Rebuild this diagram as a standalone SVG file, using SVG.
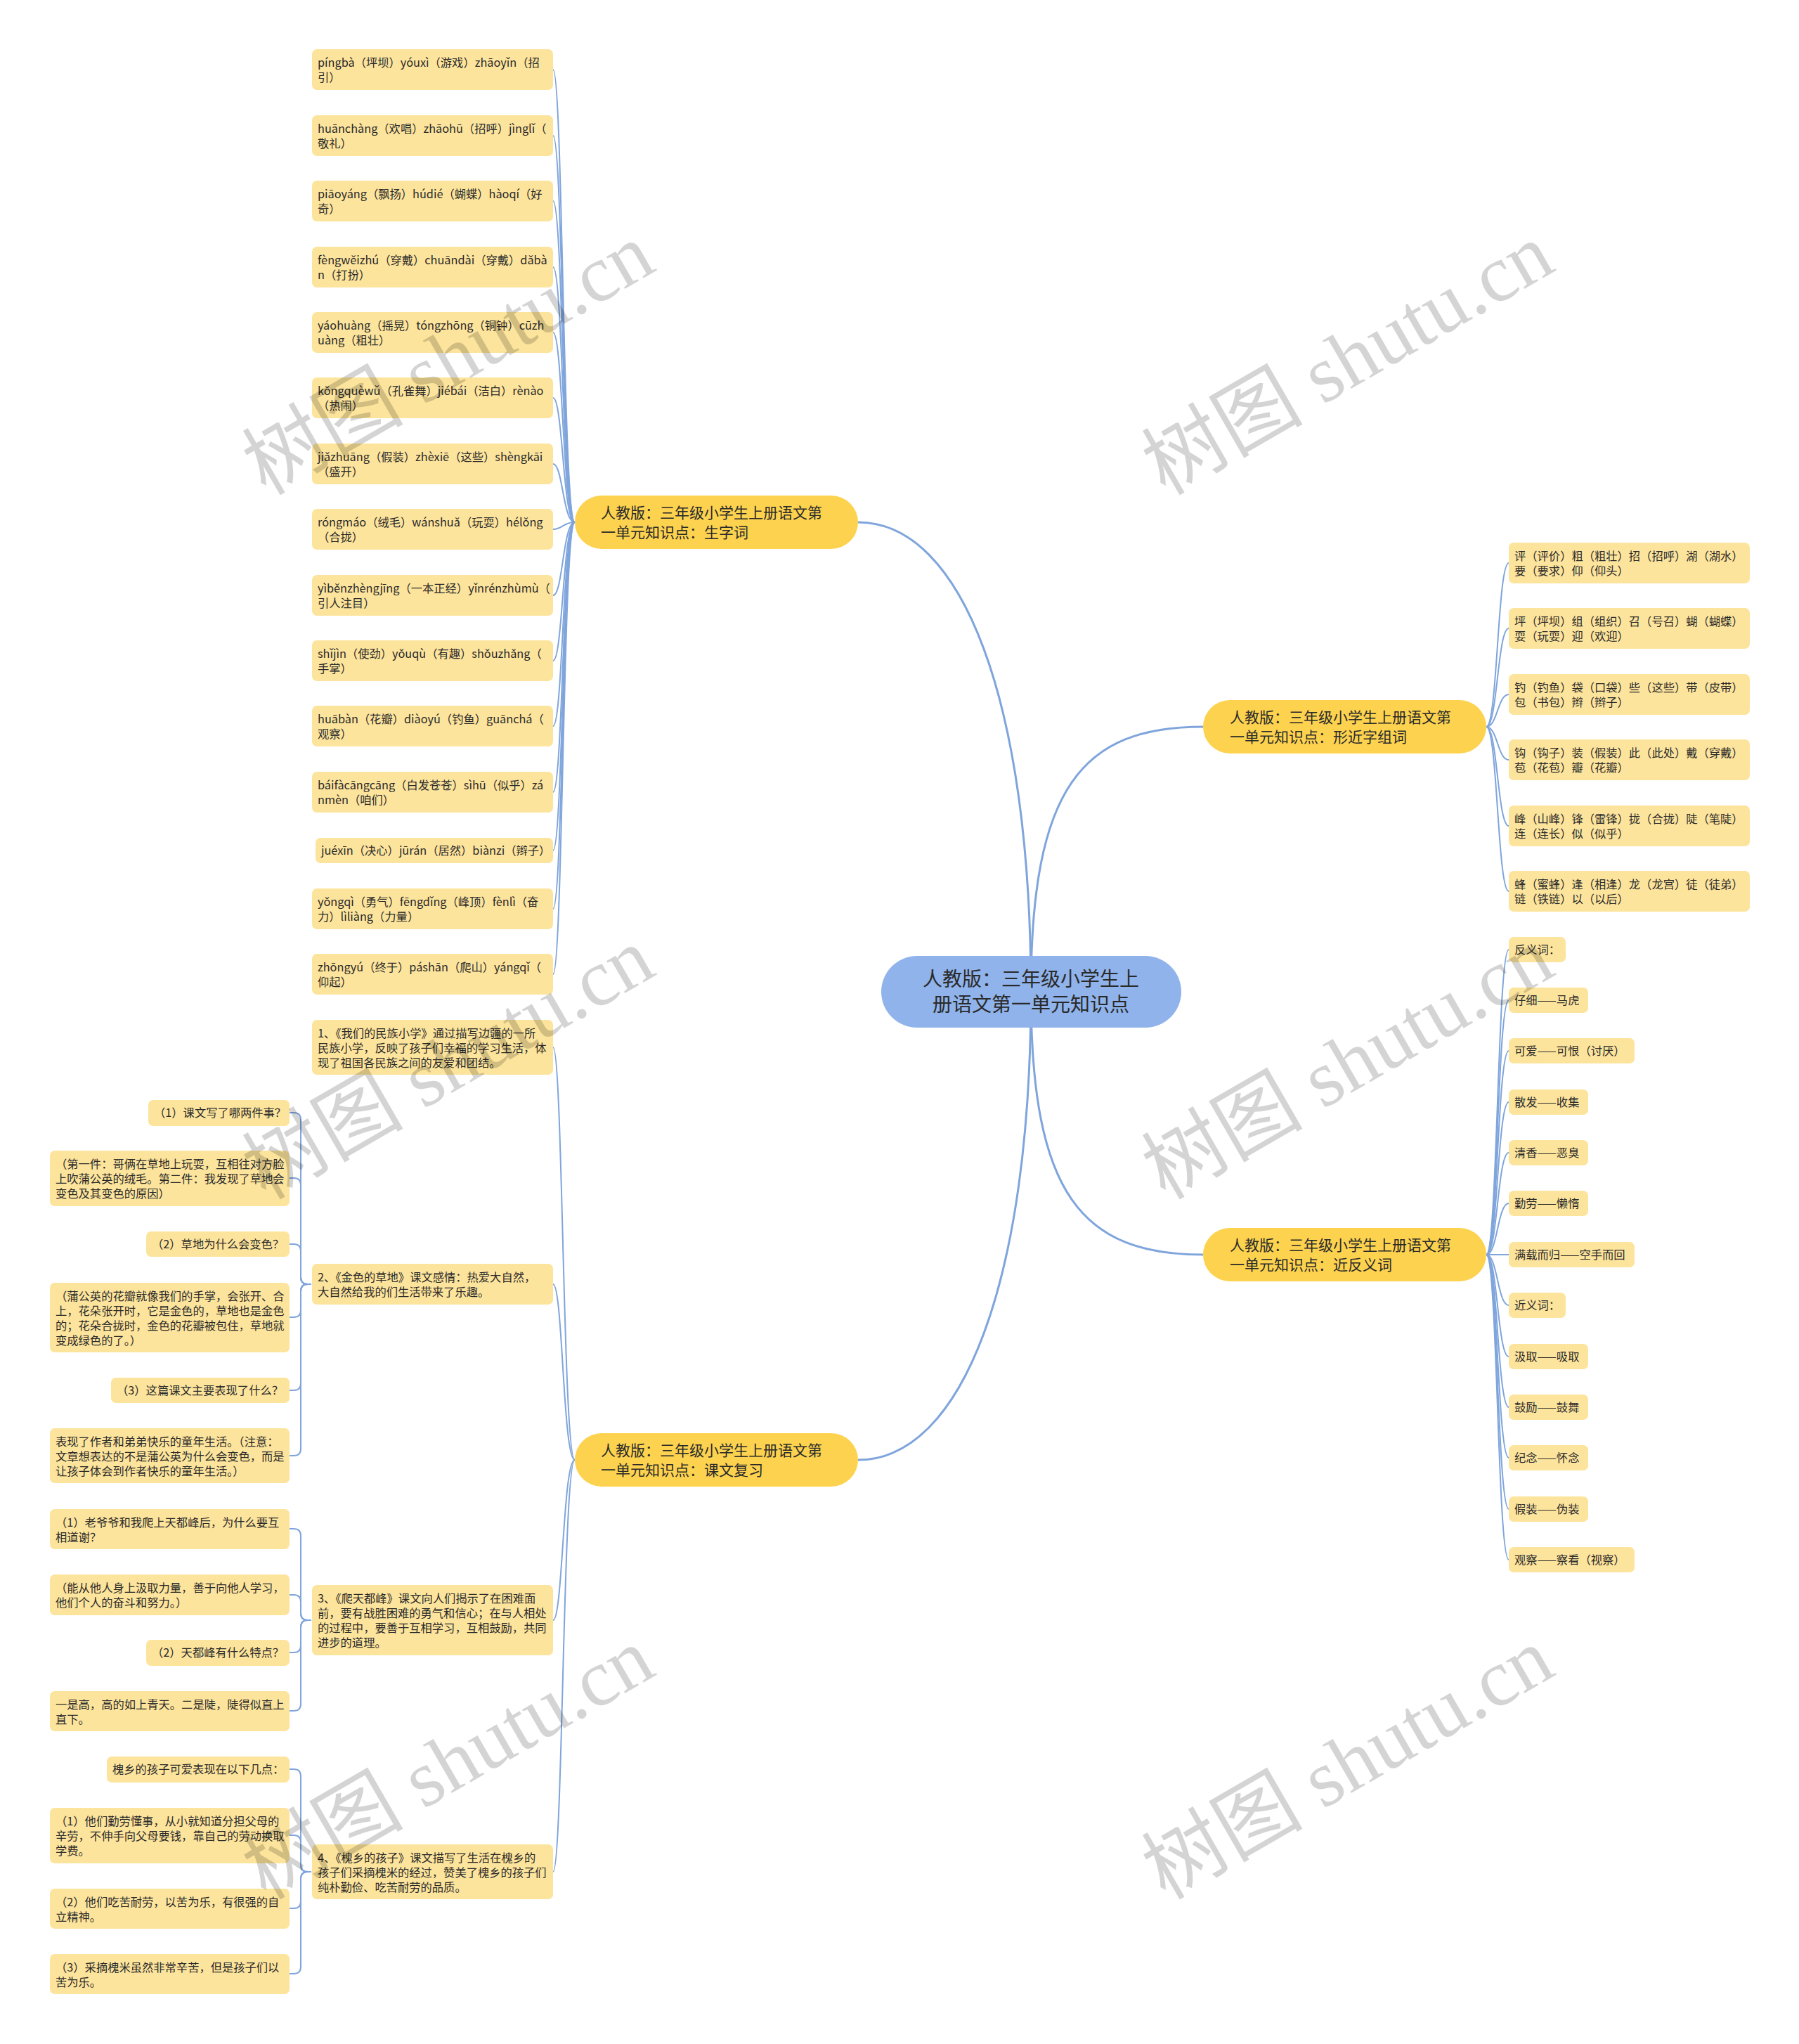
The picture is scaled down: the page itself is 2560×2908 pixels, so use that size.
<svg xmlns="http://www.w3.org/2000/svg" width="2560" height="2908" viewBox="0 0 2560 2908">
<style>
.c{fill:none;stroke:#7fa5dc;stroke-width:2}
.cm{fill:none;stroke:#7fa5dc;stroke-width:3}
.leaf{fill:#fde49c}
.br{fill:#fdd24f}
.root{fill:#8fb3ea}
text{font-family:"Noto Sans CJK SC","Noto Sans",sans-serif;fill:#2a2a2a}
.t{font-size:16.3px}
.tb{font-size:21px}
.tr{font-size:28px;text-anchor:middle}
.wm{font-family:"Liberation Serif","Noto Sans CJK SC",serif;font-size:115px;fill:#000;fill-opacity:0.17}
</style>
<rect width="2560" height="2908" fill="#ffffff"/>
<g id="connectors">
<path class="cm" d="M1467 1411 C1467 1000 1370 743 1221 743"/>
<path class="cm" d="M1467 1411 C1467 1120 1540 1034 1712 1034"/>
<path class="cm" d="M1467 1411 C1467 1700 1540 1785 1712 1785"/>
<path class="cm" d="M1467 1411 C1467 1820 1370 2077 1221 2077"/>
<path class="c" d="M818 743 C801 743 801 99 787 99"/>
<path class="c" d="M818 743 C801 743 801 193 787 193"/>
<path class="c" d="M818 743 C801 743 801 286 787 286"/>
<path class="c" d="M818 743 C801 743 801 380 787 380"/>
<path class="c" d="M818 743 C801 743 801 473 787 473"/>
<path class="c" d="M818 743 C801 743 801 566 787 566"/>
<path class="c" d="M818 743 C801 743 801 660 787 660"/>
<path class="c" d="M818 743 C801 743 801 753 787 753"/>
<path class="c" d="M818 743 C801 743 801 847 787 847"/>
<path class="c" d="M818 743 C801 743 801 940 787 940"/>
<path class="c" d="M818 743 C801 743 801 1033 787 1033"/>
<path class="c" d="M818 743 C801 743 801 1127 787 1127"/>
<path class="c" d="M818 743 C801 743 801 1210 787 1210"/>
<path class="c" d="M818 743 C801 743 801 1293 787 1293"/>
<path class="c" d="M818 743 C801 743 801 1386 787 1386"/>
<path class="c" d="M818 2077 C801 2077 801 1490 787 1490"/>
<path class="c" d="M818 2077 C801 2077 801 1827 787 1827"/>
<path class="c" d="M818 2077 C801 2077 801 2305 787 2305"/>
<path class="c" d="M818 2077 C801 2077 801 2663 787 2663"/>
<path class="c" d="M2115 1034 C2131 1034 2131 801 2147 801"/>
<path class="c" d="M2115 1034 C2131 1034 2131 894 2147 894"/>
<path class="c" d="M2115 1034 C2131 1034 2131 988 2147 988"/>
<path class="c" d="M2115 1034 C2131 1034 2131 1081 2147 1081"/>
<path class="c" d="M2115 1034 C2131 1034 2131 1175 2147 1175"/>
<path class="c" d="M2115 1034 C2131 1034 2131 1268 2147 1268"/>
<path class="c" d="M2115 1785 C2131 1785 2131 1351 2147 1351"/>
<path class="c" d="M2115 1785 C2131 1785 2131 1423 2147 1423"/>
<path class="c" d="M2115 1785 C2131 1785 2131 1495 2147 1495"/>
<path class="c" d="M2115 1785 C2131 1785 2131 1568 2147 1568"/>
<path class="c" d="M2115 1785 C2131 1785 2131 1640 2147 1640"/>
<path class="c" d="M2115 1785 C2131 1785 2131 1712 2147 1712"/>
<path class="c" d="M2115 1785 L2147 1785"/>
<path class="c" d="M2115 1785 C2131 1785 2131 1857 2147 1857"/>
<path class="c" d="M2115 1785 C2131 1785 2131 1930 2147 1930"/>
<path class="c" d="M2115 1785 C2131 1785 2131 2002 2147 2002"/>
<path class="c" d="M2115 1785 C2131 1785 2131 2074 2147 2074"/>
<path class="c" d="M2115 1785 C2131 1785 2131 2147 2147 2147"/>
<path class="c" d="M2115 1785 C2131 1785 2131 2219 2147 2219"/>
<path class="c" d="M443 1827 H438 Q428 1827 428 1817 V1593 Q428 1583 418 1583 H412"/>
<path class="c" d="M443 1827 H438 Q428 1827 428 1817 V1686 Q428 1676 418 1676 H412"/>
<path class="c" d="M443 1827 H438 Q428 1827 428 1817 V1780 Q428 1770 418 1770 H412"/>
<path class="c" d="M443 1827 H438 Q428 1827 428 1837 V1864 Q428 1874 418 1874 H412"/>
<path class="c" d="M443 1827 H438 Q428 1827 428 1837 V1968 Q428 1978 418 1978 H412"/>
<path class="c" d="M443 1827 H438 Q428 1827 428 1837 V2061 Q428 2071 418 2071 H412"/>
<path class="c" d="M443 2305 H438 Q428 2305 428 2295 V2185 Q428 2175 418 2175 H412"/>
<path class="c" d="M443 2305 H438 Q428 2305 428 2295 V2279 Q428 2269 418 2269 H412"/>
<path class="c" d="M443 2305 H438 Q428 2305 428 2315 V2341 Q428 2351 418 2351 H412"/>
<path class="c" d="M443 2305 H438 Q428 2305 428 2315 V2424 Q428 2434 418 2434 H412"/>
<path class="c" d="M443 2663 H438 Q428 2663 428 2653 V2527 Q428 2517 418 2517 H412"/>
<path class="c" d="M443 2663 H438 Q428 2663 428 2653 V2621 Q428 2611 418 2611 H412"/>
<path class="c" d="M443 2663 H438 Q428 2663 428 2673 V2705 Q428 2715 418 2715 H412"/>
<path class="c" d="M443 2663 H438 Q428 2663 428 2673 V2798 Q428 2808 418 2808 H412"/>
</g>
<g id="root"><rect class="root" x="1254" y="1360" width="427" height="102" rx="51"/><text class="tr" x="1467" y="1403">人教版：三年级小学生上</text><text class="tr" x="1467" y="1439">册语文第一单元知识点</text></g>
<g id="b1"><rect class="br" x="818" y="705" width="403" height="76" rx="38"/><text class="tb" x="855" y="737">人教版：三年级小学生上册语文第</text><text class="tb" x="855" y="765">一单元知识点：生字词</text></g>
<g id="b2"><rect class="br" x="1712" y="996" width="403" height="76" rx="38"/><text class="tb" x="1750" y="1028">人教版：三年级小学生上册语文第</text><text class="tb" x="1750" y="1056">一单元知识点：形近字组词</text></g>
<g id="b3"><rect class="br" x="1712" y="1747" width="403" height="76" rx="38"/><text class="tb" x="1750" y="1779">人教版：三年级小学生上册语文第</text><text class="tb" x="1750" y="1807">一单元知识点：近反义词</text></g>
<g id="b4"><rect class="br" x="818" y="2039" width="403" height="76" rx="38"/><text class="tb" x="855" y="2071">人教版：三年级小学生上册语文第</text><text class="tb" x="855" y="2099">一单元知识点：课文复习</text></g>
<g id="s1"><rect class="leaf" x="444" y="70" width="343" height="58" rx="7"/><text class="t" x="452" y="95">píngbà（坪坝）yóuxì（游戏）zhāoyǐn（招</text><text class="t" x="452" y="116">引）</text></g>
<g id="s2"><rect class="leaf" x="444" y="164" width="343" height="58" rx="7"/><text class="t" x="452" y="189">huānchàng（欢唱）zhāohū（招呼）jìnglǐ（</text><text class="t" x="452" y="210">敬礼）</text></g>
<g id="s3"><rect class="leaf" x="444" y="257" width="343" height="58" rx="7"/><text class="t" x="452" y="282">piāoyáng（飘扬）húdié（蝴蝶）hàoqí（好</text><text class="t" x="452" y="303">奇）</text></g>
<g id="s4"><rect class="leaf" x="444" y="351" width="343" height="58" rx="7"/><text class="t" x="452" y="376">fèngwěizhú（穿戴）chuāndài（穿戴）dǎbà</text><text class="t" x="452" y="397">n（打扮）</text></g>
<g id="s5"><rect class="leaf" x="444" y="444" width="343" height="58" rx="7"/><text class="t" x="452" y="469">yáohuàng（摇晃）tóngzhōng（铜钟）cūzh</text><text class="t" x="452" y="490">uàng（粗壮）</text></g>
<g id="s6"><rect class="leaf" x="444" y="537" width="343" height="58" rx="7"/><text class="t" x="452" y="562">kǒngquèwǔ（孔雀舞）jiébái（洁白）rènào</text><text class="t" x="452" y="583">（热闹）</text></g>
<g id="s7"><rect class="leaf" x="444" y="631" width="343" height="58" rx="7"/><text class="t" x="452" y="656">jiǎzhuāng（假装）zhèxiē（这些）shèngkāi</text><text class="t" x="452" y="677">（盛开）</text></g>
<g id="s8"><rect class="leaf" x="444" y="724" width="343" height="58" rx="7"/><text class="t" x="452" y="749">róngmáo（绒毛）wánshuǎ（玩耍）hélǒng</text><text class="t" x="452" y="770">（合拢）</text></g>
<g id="s9"><rect class="leaf" x="444" y="818" width="343" height="58" rx="7"/><text class="t" x="452" y="843">yìběnzhèngjīng（一本正经）yǐnrénzhùmù（</text><text class="t" x="452" y="864">引人注目）</text></g>
<g id="s10"><rect class="leaf" x="444" y="911" width="343" height="58" rx="7"/><text class="t" x="452" y="936">shǐjìn（使劲）yǒuqù（有趣）shǒuzhǎng（</text><text class="t" x="452" y="957">手掌）</text></g>
<g id="s11"><rect class="leaf" x="444" y="1004" width="343" height="58" rx="7"/><text class="t" x="452" y="1029">huābàn（花瓣）diàoyú（钓鱼）guānchá（</text><text class="t" x="452" y="1050">观察）</text></g>
<g id="s12"><rect class="leaf" x="444" y="1098" width="343" height="58" rx="7"/><text class="t" x="452" y="1123">báifàcāngcāng（白发苍苍）sìhū（似乎）zá</text><text class="t" x="452" y="1144">nmèn（咱们）</text></g>
<g id="s13"><rect class="leaf" x="449" y="1192" width="338" height="36" rx="7"/><text class="t" x="457" y="1216">juéxīn（决心）jūrán（居然）biànzi（辫子）</text></g>
<g id="s14"><rect class="leaf" x="444" y="1264" width="343" height="58" rx="7"/><text class="t" x="452" y="1289">yǒngqì（勇气）fēngdǐng（峰顶）fènlì（奋</text><text class="t" x="452" y="1310">力）lìliàng（力量）</text></g>
<g id="s15"><rect class="leaf" x="444" y="1357" width="343" height="58" rx="7"/><text class="t" x="452" y="1382">zhōngyú（终于）páshān（爬山）yángqǐ（</text><text class="t" x="452" y="1403">仰起）</text></g>
<g id="k1"><rect class="leaf" x="444" y="1451" width="343" height="78" rx="7"/><text class="t" x="452" y="1476">1、《我们的民族小学》通过描写边疆的一所</text><text class="t" x="452" y="1497">民族小学，反映了孩子们幸福的学习生活，体</text><text class="t" x="452" y="1518">现了祖国各民族之间的友爱和团结。</text></g>
<g id="k2"><rect class="leaf" x="444" y="1798" width="343" height="58" rx="7"/><text class="t" x="452" y="1823">2、《金色的草地》课文感情：热爱大自然，</text><text class="t" x="452" y="1844">大自然给我的们生活带来了乐趣。</text></g>
<g id="k3"><rect class="leaf" x="444" y="2255" width="343" height="100" rx="7"/><text class="t" x="452" y="2280">3、《爬天都峰》课文向人们揭示了在困难面</text><text class="t" x="452" y="2301">前，要有战胜困难的勇气和信心；在与人相处</text><text class="t" x="452" y="2322">的过程中，要善于互相学习，互相鼓励，共同</text><text class="t" x="452" y="2343">进步的道理。</text></g>
<g id="k4"><rect class="leaf" x="444" y="2624" width="343" height="78" rx="7"/><text class="t" x="452" y="2649">4、《槐乡的孩子》课文描写了生活在槐乡的</text><text class="t" x="452" y="2670">孩子们采摘槐米的经过，赞美了槐乡的孩子们</text><text class="t" x="452" y="2691">纯朴勤俭、吃苦耐劳的品质。</text></g>
<g id="g1"><rect class="leaf" x="211" y="1565" width="201" height="37" rx="7"/><text class="t" x="219" y="1589">（1）课文写了哪两件事？</text></g>
<g id="g2"><rect class="leaf" x="71" y="1637" width="341" height="79" rx="7"/><text class="t" x="79" y="1662">（第一件：哥俩在草地上玩耍，互相往对方脸</text><text class="t" x="79" y="1683">上吹蒲公英的绒毛。第二件：我发现了草地会</text><text class="t" x="79" y="1704">变色及其变色的原因）</text></g>
<g id="g3"><rect class="leaf" x="208" y="1752" width="204" height="36" rx="7"/><text class="t" x="216" y="1776">（2）草地为什么会变色？</text></g>
<g id="g4"><rect class="leaf" x="71" y="1825" width="341" height="99" rx="7"/><text class="t" x="79" y="1850">（蒲公英的花瓣就像我们的手掌，会张开、合</text><text class="t" x="79" y="1871">上，花朵张开时，它是金色的，草地也是金色</text><text class="t" x="79" y="1892">的；花朵合拢时，金色的花瓣被包住，草地就</text><text class="t" x="79" y="1913">变成绿色的了。）</text></g>
<g id="g5"><rect class="leaf" x="158" y="1960" width="254" height="36" rx="7"/><text class="t" x="166" y="1984">（3）这篇课文主要表现了什么？</text></g>
<g id="g6"><rect class="leaf" x="71" y="2032" width="341" height="78" rx="7"/><text class="t" x="79" y="2057">表现了作者和弟弟快乐的童年生活。（注意：</text><text class="t" x="79" y="2078">文章想表达的不是蒲公英为什么会变色，而是</text><text class="t" x="79" y="2099">让孩子体会到作者快乐的童年生活。）</text></g>
<g id="g7"><rect class="leaf" x="71" y="2147" width="341" height="57" rx="7"/><text class="t" x="79" y="2172">（1）老爷爷和我爬上天都峰后，为什么要互</text><text class="t" x="79" y="2193">相道谢？</text></g>
<g id="g8"><rect class="leaf" x="71" y="2240" width="341" height="58" rx="7"/><text class="t" x="79" y="2265">（能从他人身上汲取力量，善于向他人学习，</text><text class="t" x="79" y="2286">他们个人的奋斗和努力。）</text></g>
<g id="g9"><rect class="leaf" x="208" y="2333" width="204" height="37" rx="7"/><text class="t" x="216" y="2357">（2）天都峰有什么特点？</text></g>
<g id="g10"><rect class="leaf" x="71" y="2406" width="341" height="57" rx="7"/><text class="t" x="79" y="2431">一是高，高的如上青天。二是陡，陡得似直上</text><text class="t" x="79" y="2452">直下。</text></g>
<g id="g11"><rect class="leaf" x="152" y="2499" width="260" height="37" rx="7"/><text class="t" x="160" y="2523">槐乡的孩子可爱表现在以下几点：</text></g>
<g id="g12"><rect class="leaf" x="71" y="2572" width="341" height="79" rx="7"/><text class="t" x="79" y="2597">（1）他们勤劳懂事，从小就知道分担父母的</text><text class="t" x="79" y="2618">辛劳，不伸手向父母要钱，靠自己的劳动换取</text><text class="t" x="79" y="2639">学费。</text></g>
<g id="g13"><rect class="leaf" x="71" y="2687" width="341" height="57" rx="7"/><text class="t" x="79" y="2712">（2）他们吃苦耐劳，以苦为乐，有很强的自</text><text class="t" x="79" y="2733">立精神。</text></g>
<g id="g14"><rect class="leaf" x="71" y="2780" width="341" height="57" rx="7"/><text class="t" x="79" y="2805">（3）采摘槐米虽然非常辛苦，但是孩子们以</text><text class="t" x="79" y="2826">苦为乐。</text></g>
<g id="x1"><rect class="leaf" x="2147" y="772" width="343" height="58" rx="7"/><text class="t" x="2155" y="797">评（评价）粗（粗壮）招（招呼）湖（湖水）</text><text class="t" x="2155" y="818">要（要求）仰（仰头）</text></g>
<g id="x2"><rect class="leaf" x="2147" y="865" width="343" height="58" rx="7"/><text class="t" x="2155" y="890">坪（坪坝）组（组织）召（号召）蝴（蝴蝶）</text><text class="t" x="2155" y="911">耍（玩耍）迎（欢迎）</text></g>
<g id="x3"><rect class="leaf" x="2147" y="959" width="343" height="58" rx="7"/><text class="t" x="2155" y="984">钓（钓鱼）袋（口袋）些（这些）带（皮带）</text><text class="t" x="2155" y="1005">包（书包）辫（辫子）</text></g>
<g id="x4"><rect class="leaf" x="2147" y="1052" width="343" height="58" rx="7"/><text class="t" x="2155" y="1077">钩（钩子）装（假装）此（此处）戴（穿戴）</text><text class="t" x="2155" y="1098">苞（花苞）瓣（花瓣）</text></g>
<g id="x5"><rect class="leaf" x="2147" y="1146" width="343" height="58" rx="7"/><text class="t" x="2155" y="1171">峰（山峰）锋（雷锋）拢（合拢）陡（笔陡）</text><text class="t" x="2155" y="1192">连（连长）似（似乎）</text></g>
<g id="x6"><rect class="leaf" x="2147" y="1239" width="343" height="58" rx="7"/><text class="t" x="2155" y="1264">蜂（蜜蜂）逢（相逢）龙（龙宫）徒（徒弟）</text><text class="t" x="2155" y="1285">链（铁链）以（以后）</text></g>
<g id="y1"><rect class="leaf" x="2147" y="1333" width="81" height="36" rx="7"/><text class="t" x="2155" y="1357">反义词：</text></g>
<g id="y2"><rect class="leaf" x="2147" y="1405" width="113" height="36" rx="7"/><text class="t" x="2155" y="1429">仔细——马虎</text></g>
<g id="y3"><rect class="leaf" x="2147" y="1477" width="179" height="36" rx="7"/><text class="t" x="2155" y="1501">可爱——可恨（讨厌）</text></g>
<g id="y4"><rect class="leaf" x="2147" y="1550" width="113" height="36" rx="7"/><text class="t" x="2155" y="1574">散发——收集</text></g>
<g id="y5"><rect class="leaf" x="2147" y="1622" width="113" height="36" rx="7"/><text class="t" x="2155" y="1646">清香——恶臭</text></g>
<g id="y6"><rect class="leaf" x="2147" y="1694" width="113" height="36" rx="7"/><text class="t" x="2155" y="1718">勤劳——懒惰</text></g>
<g id="y7"><rect class="leaf" x="2147" y="1767" width="179" height="36" rx="7"/><text class="t" x="2155" y="1791">满载而归——空手而回</text></g>
<g id="y8"><rect class="leaf" x="2147" y="1839" width="81" height="36" rx="7"/><text class="t" x="2155" y="1863">近义词：</text></g>
<g id="y9"><rect class="leaf" x="2147" y="1912" width="113" height="36" rx="7"/><text class="t" x="2155" y="1936">汲取——吸取</text></g>
<g id="y10"><rect class="leaf" x="2147" y="1984" width="113" height="36" rx="7"/><text class="t" x="2155" y="2008">鼓励——鼓舞</text></g>
<g id="y11"><rect class="leaf" x="2147" y="2056" width="113" height="36" rx="7"/><text class="t" x="2155" y="2080">纪念——怀念</text></g>
<g id="y12"><rect class="leaf" x="2147" y="2129" width="113" height="36" rx="7"/><text class="t" x="2155" y="2153">假装——伪装</text></g>
<g id="y13"><rect class="leaf" x="2147" y="2201" width="179" height="36" rx="7"/><text class="t" x="2155" y="2225">观察——察看（视察）</text></g>
<g id="watermarks">
<text class="wm" x="378" y="706" transform="rotate(-30 378 706)">树图 shutu.cn</text>
<text class="wm" x="1658" y="706" transform="rotate(-30 1658 706)">树图 shutu.cn</text>
<text class="wm" x="378" y="1708" transform="rotate(-30 378 1708)">树图 shutu.cn</text>
<text class="wm" x="1658" y="1708" transform="rotate(-30 1658 1708)">树图 shutu.cn</text>
<text class="wm" x="378" y="2704" transform="rotate(-30 378 2704)">树图 shutu.cn</text>
<text class="wm" x="1658" y="2704" transform="rotate(-30 1658 2704)">树图 shutu.cn</text>
</g>
</svg>
